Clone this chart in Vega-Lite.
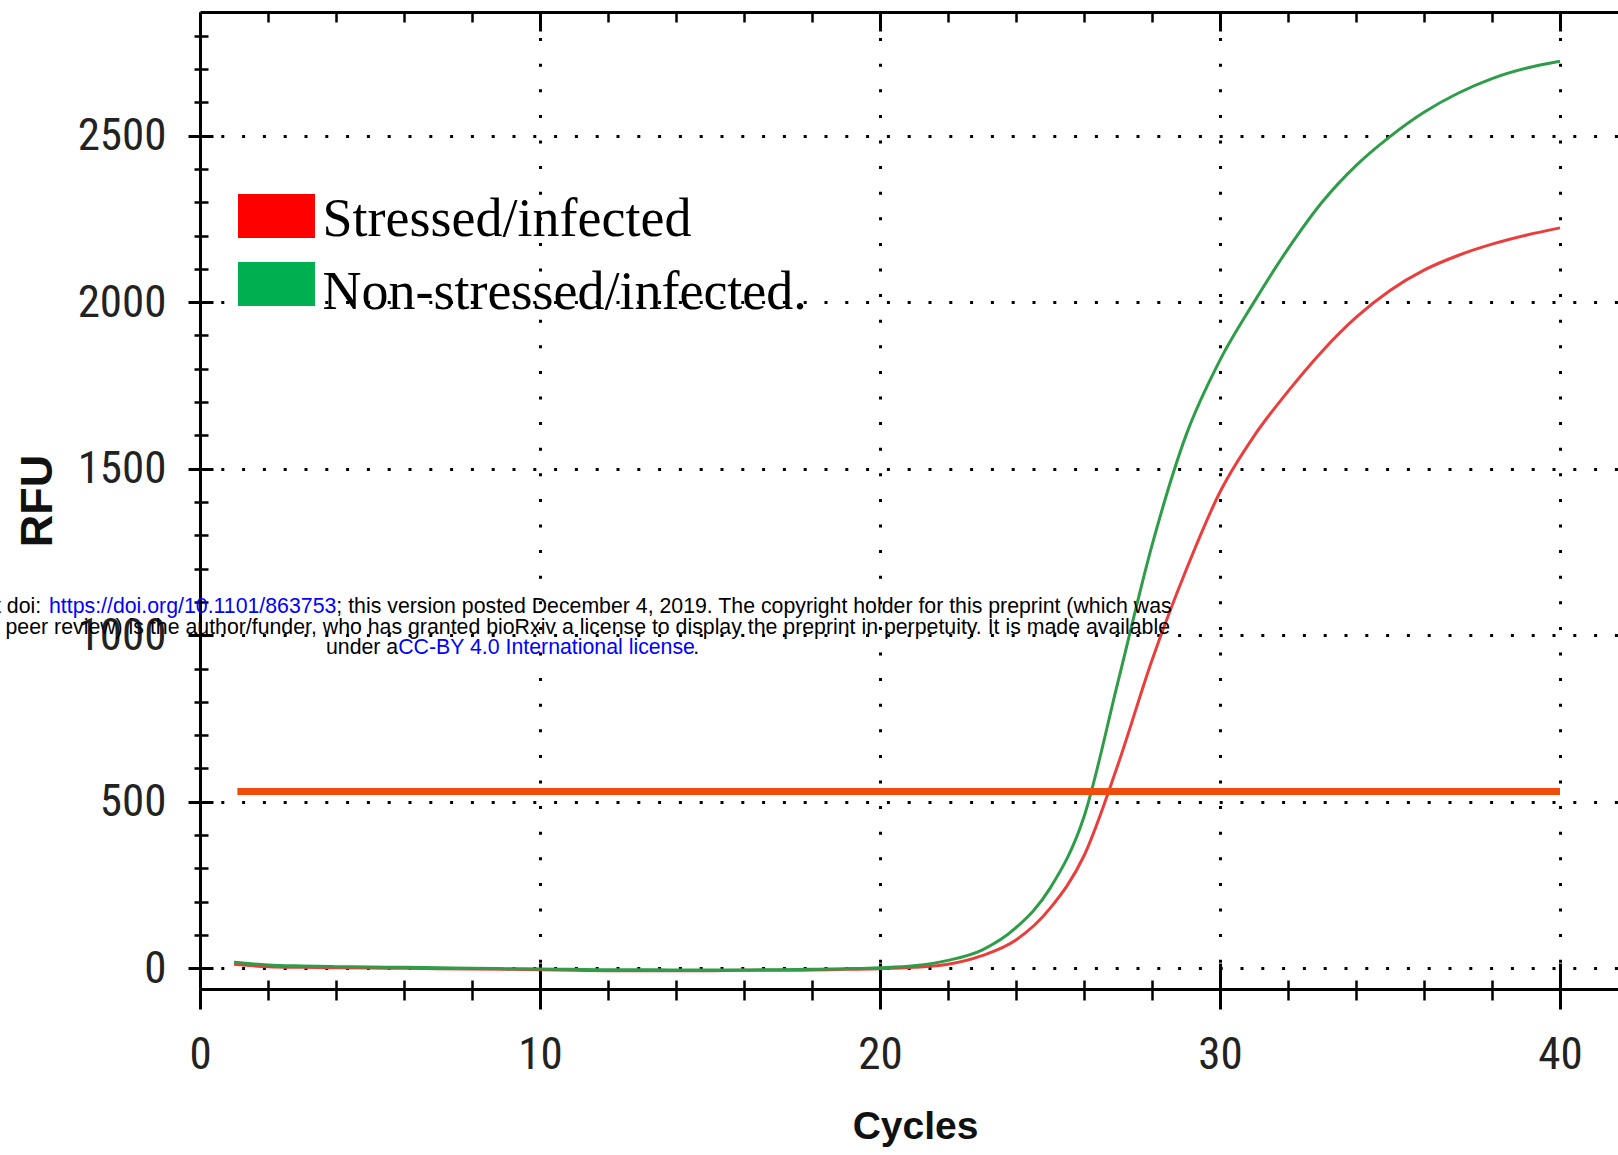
{
  "$schema": "https://vega.github.io/schema/vega-lite/v6.json",
  "autosize": {"type": "none"},
  "padding": {"left": 200, "top": 12, "right": 0, "bottom": 166},
  "width": 1418,
  "height": 977,
  "background": "white",
  "view": {"stroke": null},
  "config": {
    "axis": {"domainColor": "black", "tickColor": "black", "gridColor": "black", "gridOpacity": 1, "tickCap": "butt"}
  },
  "resolve": {"axis": {"x": "independent", "y": "independent"}},
  "layer": [
    {
      "data": {"values": [
        {"cycle": 1, "RFU": 12, "sample": "Stressed/infected"},
        {"cycle": 2, "RFU": 5, "sample": "Stressed/infected"},
        {"cycle": 3, "RFU": 3, "sample": "Stressed/infected"},
        {"cycle": 4, "RFU": 2, "sample": "Stressed/infected"},
        {"cycle": 5, "RFU": 1, "sample": "Stressed/infected"},
        {"cycle": 6, "RFU": 0, "sample": "Stressed/infected"},
        {"cycle": 7, "RFU": -1, "sample": "Stressed/infected"},
        {"cycle": 8, "RFU": -2, "sample": "Stressed/infected"},
        {"cycle": 9, "RFU": -3, "sample": "Stressed/infected"},
        {"cycle": 10, "RFU": -4, "sample": "Stressed/infected"},
        {"cycle": 11, "RFU": -6, "sample": "Stressed/infected"},
        {"cycle": 12, "RFU": -7, "sample": "Stressed/infected"},
        {"cycle": 13, "RFU": -7, "sample": "Stressed/infected"},
        {"cycle": 14, "RFU": -7, "sample": "Stressed/infected"},
        {"cycle": 15, "RFU": -7, "sample": "Stressed/infected"},
        {"cycle": 16, "RFU": -6, "sample": "Stressed/infected"},
        {"cycle": 17, "RFU": -6, "sample": "Stressed/infected"},
        {"cycle": 18, "RFU": -5, "sample": "Stressed/infected"},
        {"cycle": 19, "RFU": -3, "sample": "Stressed/infected"},
        {"cycle": 20, "RFU": -1, "sample": "Stressed/infected"},
        {"cycle": 21, "RFU": 3, "sample": "Stressed/infected"},
        {"cycle": 22, "RFU": 12, "sample": "Stressed/infected"},
        {"cycle": 23, "RFU": 38, "sample": "Stressed/infected"},
        {"cycle": 24, "RFU": 85, "sample": "Stressed/infected"},
        {"cycle": 25, "RFU": 180, "sample": "Stressed/infected"},
        {"cycle": 26, "RFU": 338, "sample": "Stressed/infected"},
        {"cycle": 27, "RFU": 612, "sample": "Stressed/infected"},
        {"cycle": 28, "RFU": 925, "sample": "Stressed/infected"},
        {"cycle": 29, "RFU": 1195, "sample": "Stressed/infected"},
        {"cycle": 30, "RFU": 1430, "sample": "Stressed/infected"},
        {"cycle": 31, "RFU": 1598, "sample": "Stressed/infected"},
        {"cycle": 32, "RFU": 1732, "sample": "Stressed/infected"},
        {"cycle": 33, "RFU": 1852, "sample": "Stressed/infected"},
        {"cycle": 34, "RFU": 1954, "sample": "Stressed/infected"},
        {"cycle": 35, "RFU": 2035, "sample": "Stressed/infected"},
        {"cycle": 36, "RFU": 2096, "sample": "Stressed/infected"},
        {"cycle": 37, "RFU": 2140, "sample": "Stressed/infected"},
        {"cycle": 38, "RFU": 2174, "sample": "Stressed/infected"},
        {"cycle": 39, "RFU": 2201, "sample": "Stressed/infected"},
        {"cycle": 40, "RFU": 2223, "sample": "Stressed/infected"},
        {"cycle": 1, "RFU": 18, "sample": "Non-stressed/infected."},
        {"cycle": 2, "RFU": 10, "sample": "Non-stressed/infected."},
        {"cycle": 3, "RFU": 7, "sample": "Non-stressed/infected."},
        {"cycle": 4, "RFU": 5, "sample": "Non-stressed/infected."},
        {"cycle": 5, "RFU": 4, "sample": "Non-stressed/infected."},
        {"cycle": 6, "RFU": 3, "sample": "Non-stressed/infected."},
        {"cycle": 7, "RFU": 2, "sample": "Non-stressed/infected."},
        {"cycle": 8, "RFU": 0, "sample": "Non-stressed/infected."},
        {"cycle": 9, "RFU": -1, "sample": "Non-stressed/infected."},
        {"cycle": 10, "RFU": -2, "sample": "Non-stressed/infected."},
        {"cycle": 11, "RFU": -3, "sample": "Non-stressed/infected."},
        {"cycle": 12, "RFU": -4, "sample": "Non-stressed/infected."},
        {"cycle": 13, "RFU": -4, "sample": "Non-stressed/infected."},
        {"cycle": 14, "RFU": -5, "sample": "Non-stressed/infected."},
        {"cycle": 15, "RFU": -5, "sample": "Non-stressed/infected."},
        {"cycle": 16, "RFU": -5, "sample": "Non-stressed/infected."},
        {"cycle": 17, "RFU": -4, "sample": "Non-stressed/infected."},
        {"cycle": 18, "RFU": -3, "sample": "Non-stressed/infected."},
        {"cycle": 19, "RFU": -1, "sample": "Non-stressed/infected."},
        {"cycle": 20, "RFU": 2, "sample": "Non-stressed/infected."},
        {"cycle": 21, "RFU": 8, "sample": "Non-stressed/infected."},
        {"cycle": 22, "RFU": 24, "sample": "Non-stressed/infected."},
        {"cycle": 23, "RFU": 55, "sample": "Non-stressed/infected."},
        {"cycle": 24, "RFU": 122, "sample": "Non-stressed/infected."},
        {"cycle": 25, "RFU": 240, "sample": "Non-stressed/infected."},
        {"cycle": 26, "RFU": 455, "sample": "Non-stressed/infected."},
        {"cycle": 27, "RFU": 860, "sample": "Non-stressed/infected."},
        {"cycle": 28, "RFU": 1270, "sample": "Non-stressed/infected."},
        {"cycle": 29, "RFU": 1600, "sample": "Non-stressed/infected."},
        {"cycle": 30, "RFU": 1826, "sample": "Non-stressed/infected."},
        {"cycle": 31, "RFU": 2000, "sample": "Non-stressed/infected."},
        {"cycle": 32, "RFU": 2160, "sample": "Non-stressed/infected."},
        {"cycle": 33, "RFU": 2300, "sample": "Non-stressed/infected."},
        {"cycle": 34, "RFU": 2410, "sample": "Non-stressed/infected."},
        {"cycle": 35, "RFU": 2497, "sample": "Non-stressed/infected."},
        {"cycle": 36, "RFU": 2570, "sample": "Non-stressed/infected."},
        {"cycle": 37, "RFU": 2627, "sample": "Non-stressed/infected."},
        {"cycle": 38, "RFU": 2671, "sample": "Non-stressed/infected."},
        {"cycle": 39, "RFU": 2702, "sample": "Non-stressed/infected."},
        {"cycle": 40, "RFU": 2723, "sample": "Non-stressed/infected."}
      ]},
      "mark": {"type": "line", "strokeWidth": 3, "interpolate": "monotone"},
      "encoding": {
        "x": {
          "field": "cycle", "type": "quantitative",
          "scale": {"domain": [0, 41.706], "nice": false, "zero": false},
          "axis": {
            "orient": "bottom", "values": [0, 10, 20, 30, 40], "format": "d",
            "domainWidth": 3, "tickSize": 20, "tickWidth": 3,
            "labelFont": "Roboto Condensed, Liberation Sans", "labelFontSize": 45, "labelColor": "#222",
            "labelPadding": 23, "labelFlush": false, "labelOverlap": false,
            "grid": true, "gridDash": [3, 22.6], "gridWidth": 3,
            "title": "Cycles", "titleFont": "Liberation Sans", "titleFontSize": 39,
            "titleFontWeight": "bold", "titleColor": "#111", "titlePadding": 30, "titleX": 715
          }
        },
        "y": {
          "field": "RFU", "type": "quantitative",
          "scale": {"domain": [-62, 2871], "nice": false, "zero": false},
          "axis": {
            "orient": "left", "values": [0, 500, 1000, 1500, 2000, 2500], "format": "d",
            "domainWidth": 3, "tickSize": 12, "tickWidth": 3,
            "labelFont": "Roboto Condensed, Liberation Sans", "labelFontSize": 45, "labelColor": "#222",
            "labelPadding": 22, "labelFlush": false, "labelOverlap": false,
            "grid": true, "gridDash": [3, 17.8], "gridWidth": 3,
            "title": "RFU", "titleFont": "Liberation Sans", "titleFontSize": 45,
            "titleFontWeight": "bold", "titleColor": "#111", "titlePadding": 17
          }
        },
        "color": {
          "field": "sample", "type": "nominal",
          "scale": {"domain": ["Stressed/infected", "Non-stressed/infected."], "range": ["#ec3d3d", "#2e9c48"]},
          "legend": {
            "orient": "none", "legendX": 49.5, "legendY": 177, "direction": "vertical",
            "title": null, "padding": 0,
            "symbolType": "M-1.75,-1H1.75V1H-1.75Z", "symbolSize": 1936, "symbolStrokeWidth": 0,
            "labelFont": "Liberation Serif", "labelFontSize": 54, "labelColor": "black",
            "labelOffset": 19, "labelLimit": 0, "rowPadding": 10,
            "encode": {
              "symbols": {"update": {
                "fill": {"signal": "datum.value === 'Stressed/infected' ? '#ff0000' : '#00b050'"},
                "fillOpacity": {"value": 1},
                "stroke": {"value": "transparent"}
              }},
              "labels": {"update": {
                "dy": {"signal": "4 + 5 * datum.index"}
              }}
            }
          }
        }
      }
    },
    {
      "data": {"values": [{}]},
      "mark": {"type": "rule", "color": "#f04c0c", "strokeWidth": 7},
      "encoding": {
        "x": {
          "datum": 1.1, "type": "quantitative",
          "scale": {"domain": [0, 41.706], "nice": false, "zero": false},
          "axis": {
            "orient": "bottom", "values": [2, 4, 6, 8, 12, 14, 16, 18, 22, 24, 26, 28, 32, 34, 36, 38],
            "domain": false, "tickSize": 11, "tickWidth": 2.5, "labels": false, "grid": false, "title": null
          }
        },
        "x2": {"datum": 40},
        "y": {
          "datum": 531, "type": "quantitative",
          "scale": {"domain": [-62, 2871], "nice": false, "zero": false},
          "axis": {
            "orient": "left",
            "values": [100, 200, 300, 400, 600, 700, 800, 900, 1100, 1200, 1300, 1400, 1600, 1700, 1800, 1900, 2100, 2200, 2300, 2400, 2600, 2700, 2800],
            "domain": false, "tickSize": 6, "tickWidth": 2.5, "labels": false, "grid": false, "title": null
          }
        }
      }
    },
    {
      "data": {"values": [{}]},
      "mark": {"type": "text", "font": "Liberation Sans", "fontSize": 21.3, "align": "right", "baseline": "middle", "fill": "black"},
      "encoding": {
        "text": {"value": "bioRxiv preprint doi:"},
        "x": {
          "datum": -4.67, "type": "quantitative",
          "scale": {"domain": [0, 41.706], "nice": false, "zero": false},
          "axis": {
            "orient": "bottom", "values": [0, 10, 20, 30, 40],
            "domain": false, "tickSize": -26, "tickWidth": 3, "labels": false, "grid": false, "title": null
          }
        },
        "y": {
          "datum": 1084, "type": "quantitative",
          "scale": {"domain": [-62, 2871], "nice": false, "zero": false},
          "axis": {
            "orient": "left", "values": [0, 500, 1000, 1500, 2000, 2500],
            "domain": false, "tickSize": -13, "tickWidth": 3, "labels": false, "grid": false, "title": null
          }
        }
      }
    },
    {
      "data": {"values": [{}]},
      "mark": {"type": "text", "font": "Liberation Sans", "fontSize": 21.3, "align": "right", "baseline": "middle", "fill": "#0000ff"},
      "encoding": {
        "text": {"value": "https://doi.org/10.1101/863753"},
        "x": {
          "datum": 4.01, "type": "quantitative",
          "scale": {"domain": [0, 41.706], "nice": false, "zero": false},
          "axis": {
            "orient": "bottom", "values": [2, 4, 6, 8, 12, 14, 16, 18, 22, 24, 26, 28, 32, 34, 36, 38],
            "domain": false, "tickSize": -9, "tickWidth": 2.5, "labels": false, "grid": false, "title": null
          }
        },
        "y": {
          "datum": 1084, "type": "quantitative",
          "scale": {"domain": [-62, 2871], "nice": false, "zero": false},
          "axis": {
            "orient": "left",
            "values": [100, 200, 300, 400, 600, 700, 800, 900, 1100, 1200, 1300, 1400, 1600, 1700, 1800, 1900, 2100, 2200, 2300, 2400, 2600, 2700, 2800],
            "domain": false, "tickSize": -8, "tickWidth": 2.5, "labels": false, "grid": false, "title": null
          }
        }
      }
    },
    {
      "data": {"values": [{}]},
      "mark": {"type": "text", "font": "Liberation Sans", "fontSize": 21.3, "align": "left", "baseline": "middle", "fill": "black"},
      "encoding": {
        "text": {"value": "; this version posted December 4, 2019. The copyright holder for this preprint (which was"},
        "x": {
          "datum": 4.01, "type": "quantitative",
          "scale": {"domain": [0, 41.706], "nice": false, "zero": false},
          "axis": {
            "orient": "top", "values": [2, 4, 6, 8, 12, 14, 16, 18, 22, 24, 26, 28, 32, 34, 36, 38],
            "domain": true, "domainWidth": 3, "tickSize": -10, "tickWidth": 2.5, "labels": false, "grid": false, "title": null
          }
        },
        "y": {
          "datum": 1084, "type": "quantitative",
          "scale": {"domain": [-62, 2871], "nice": false, "zero": false},
          "axis": null
        }
      }
    },
    {
      "data": {"values": [{}]},
      "mark": {"type": "text", "font": "Liberation Sans", "fontSize": 21.3, "align": "right", "baseline": "middle", "fill": "black"},
      "encoding": {
        "text": {"value": "not certified by peer review) is the author/funder, who has granted bioRxiv a license to display the preprint in perpetuity. It is made available"},
        "x": {
          "datum": 28.53, "type": "quantitative",
          "scale": {"domain": [0, 41.706], "nice": false, "zero": false},
          "axis": {
            "orient": "top", "values": [10, 20, 30, 40],
            "domain": false, "tickSize": -19, "tickWidth": 3, "labels": false, "grid": false, "title": null
          }
        },
        "y": {
          "datum": 1023, "type": "quantitative",
          "scale": {"domain": [-62, 2871], "nice": false, "zero": false},
          "axis": null
        }
      }
    },
    {
      "data": {"values": [{}]},
      "mark": {"type": "text", "font": "Liberation Sans", "fontSize": 21.3, "align": "right", "baseline": "middle", "fill": "black"},
      "encoding": {
        "text": {"value": "under a"},
        "x": {"datum": 5.83, "type": "quantitative", "scale": {"domain": [0, 41.706], "nice": false, "zero": false}, "axis": null},
        "y": {"datum": 961, "type": "quantitative", "scale": {"domain": [-62, 2871], "nice": false, "zero": false}, "axis": null}
      }
    },
    {
      "data": {"values": [{}]},
      "mark": {"type": "text", "font": "Liberation Sans", "fontSize": 21.3, "align": "left", "baseline": "middle", "fill": "#0000ff"},
      "encoding": {
        "text": {"value": "CC-BY 4.0 International license"},
        "x": {"datum": 5.83, "type": "quantitative", "scale": {"domain": [0, 41.706], "nice": false, "zero": false}, "axis": null},
        "y": {"datum": 961, "type": "quantitative", "scale": {"domain": [-62, 2871], "nice": false, "zero": false}, "axis": null}
      }
    },
    {
      "data": {"values": [{}]},
      "mark": {"type": "text", "font": "Liberation Sans", "fontSize": 21.3, "align": "left", "baseline": "middle", "fill": "black"},
      "encoding": {
        "text": {"value": "."},
        "x": {"datum": 14.51, "type": "quantitative", "scale": {"domain": [0, 41.706], "nice": false, "zero": false}, "axis": null},
        "y": {"datum": 961, "type": "quantitative", "scale": {"domain": [-62, 2871], "nice": false, "zero": false}, "axis": null}
      }
    }
  ]
}
